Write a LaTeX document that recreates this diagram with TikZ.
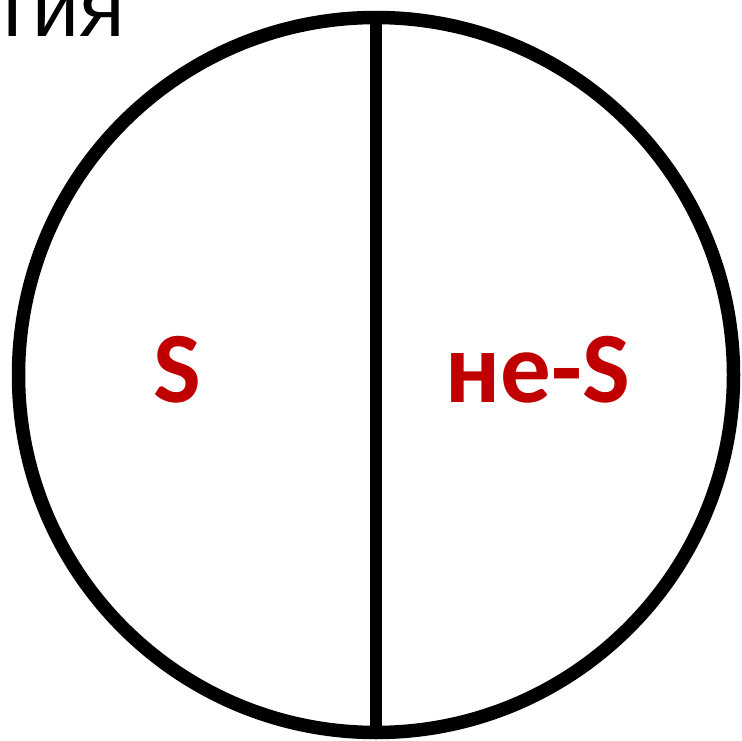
\documentclass[tikz,border=0pt]{standalone}
\usepackage{fontspec}
\setmainfont{Carlito}
\newfontfamily\lsans{Liberation Sans}
\definecolor{lblred}{HTML}{C00000}
\begin{document}
\begin{tikzpicture}[x=1pt,y=-1pt,
  region/.style={text=lblred,font=\fontsize{101}{101}\selectfont\bfseries,anchor=base,inner sep=0pt},
  border/.style={line width=13.5pt,draw=black}]
\useasboundingbox (0,0) rectangle (742,741);
\node[border,circle,minimum size=715pt,inner sep=0pt] (c) at (376,375) {};
\draw[line width=12pt] (c.north) -- (c.south);
\node[region] (s) at (177,402) {S};
\node[region] (ns) at (538,402) {не-S};
\node[font=\lsans\fontsize{84}{84}\selectfont,anchor=base east,inner sep=0pt] (t) at (125,37) {тия};
\end{tikzpicture}
\end{document}
